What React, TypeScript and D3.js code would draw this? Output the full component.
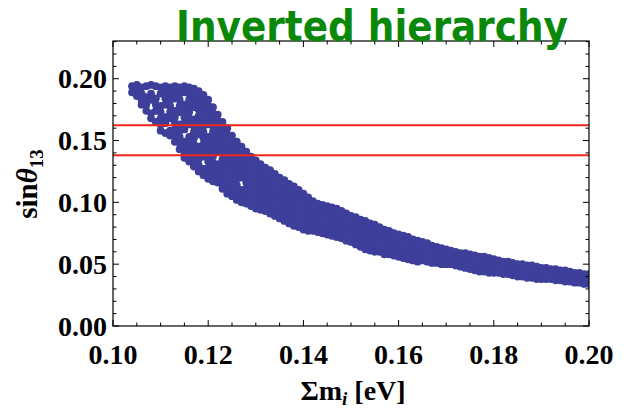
import React from "react";
import * as d3 from "d3";

// Σm_i [eV] of each sampled column of points
const sumMi = [
  0.104, 0.105, 0.106, 0.107, 0.108, 0.109, 0.110, 0.111, 0.112, 0.113, 0.114, 0.115, 0.116, 0.117, 0.118, 0.119,
  0.120, 0.121, 0.122, 0.123, 0.124, 0.125, 0.126, 0.127, 0.128, 0.129, 0.130, 0.131, 0.132, 0.133, 0.134, 0.135,
  0.136, 0.137, 0.138, 0.139, 0.140, 0.141, 0.142, 0.143, 0.144, 0.145, 0.146, 0.147, 0.148, 0.149, 0.150, 0.151,
  0.152, 0.153, 0.154, 0.155, 0.156, 0.157, 0.158, 0.159, 0.160, 0.161, 0.162, 0.163, 0.164, 0.165, 0.166, 0.167,
  0.168, 0.169, 0.170, 0.171, 0.172, 0.173, 0.174, 0.175, 0.176, 0.177, 0.178, 0.179, 0.180, 0.181, 0.182, 0.183,
  0.184, 0.185, 0.186, 0.187, 0.188, 0.189, 0.190, 0.191, 0.192, 0.193, 0.194, 0.195, 0.196, 0.197, 0.198, 0.199, 0.200,
];

// sin θ13 values of the points in each column
const sinTheta13 = [
  [0.194, 0.189],
  [0.195, 0.190, 0.186],
  [0.193, 0.188, 0.183, 0.179],
  [0.194, 0.185, 0.179, 0.174],
  [0.195, 0.188, 0.183, 0.172, 0.168],
  [0.194, 0.184, 0.179, 0.174, 0.165],
  [0.193, 0.188, 0.178, 0.173, 0.168, 0.163, 0.158],
  [0.194, 0.189, 0.184, 0.179, 0.169, 0.164, 0.156],
  [0.193, 0.188, 0.183, 0.178, 0.173, 0.168, 0.158, 0.154],
  [0.194, 0.189, 0.184, 0.174, 0.169, 0.164, 0.159, 0.154, 0.149],
  [0.193, 0.188, 0.183, 0.178, 0.173, 0.163, 0.158, 0.153, 0.148, 0.143],
  [0.194, 0.189, 0.179, 0.174, 0.169, 0.164, 0.159, 0.149, 0.144, 0.139, 0.136],
  [0.193, 0.188, 0.183, 0.178, 0.173, 0.168, 0.163, 0.153, 0.148, 0.143, 0.138, 0.133],
  [0.192, 0.187, 0.182, 0.177, 0.167, 0.162, 0.157, 0.152, 0.147, 0.142, 0.137, 0.132, 0.129],
  [0.190, 0.185, 0.180, 0.175, 0.170, 0.165, 0.160, 0.155, 0.145, 0.140, 0.135, 0.130, 0.125],
  [0.187, 0.182, 0.177, 0.172, 0.167, 0.162, 0.157, 0.152, 0.147, 0.142, 0.137, 0.127, 0.122],
  [0.183, 0.178, 0.173, 0.168, 0.163, 0.153, 0.148, 0.143, 0.138, 0.133, 0.128, 0.123, 0.119],
  [0.177, 0.172, 0.167, 0.162, 0.157, 0.152, 0.147, 0.142, 0.137, 0.132, 0.127, 0.122, 0.117],
  [0.171, 0.166, 0.161, 0.156, 0.151, 0.146, 0.141, 0.131, 0.126, 0.121, 0.116],
  [0.165, 0.160, 0.155, 0.150, 0.145, 0.140, 0.135, 0.130, 0.125, 0.120, 0.115, 0.111],
  [0.160, 0.155, 0.150, 0.145, 0.140, 0.135, 0.130, 0.125, 0.120, 0.115, 0.110, 0.107],
  [0.154, 0.149, 0.144, 0.139, 0.134, 0.129, 0.124, 0.119, 0.114, 0.109, 0.105],
  [0.149, 0.144, 0.139, 0.134, 0.129, 0.124, 0.119, 0.114, 0.109, 0.104, 0.102],
  [0.145, 0.140, 0.135, 0.130, 0.125, 0.120, 0.110, 0.105, 0.100],
  [0.141, 0.136, 0.131, 0.126, 0.121, 0.116, 0.111, 0.106, 0.101, 0.099],
  [0.137, 0.132, 0.127, 0.122, 0.117, 0.112, 0.107, 0.102, 0.097],
  [0.134, 0.129, 0.124, 0.119, 0.114, 0.109, 0.104, 0.099, 0.095],
  [0.131, 0.126, 0.121, 0.116, 0.111, 0.106, 0.101, 0.096, 0.094],
  [0.128, 0.123, 0.118, 0.113, 0.108, 0.103, 0.098, 0.093],
  [0.126, 0.121, 0.116, 0.111, 0.106, 0.101, 0.096, 0.091],
  [0.123, 0.118, 0.113, 0.108, 0.103, 0.098, 0.093, 0.089],
  [0.120, 0.115, 0.110, 0.105, 0.100, 0.095, 0.090, 0.087],
  [0.118, 0.113, 0.108, 0.103, 0.098, 0.093, 0.088, 0.085],
  [0.115, 0.110, 0.105, 0.100, 0.095, 0.090, 0.085, 0.083],
  [0.113, 0.108, 0.103, 0.098, 0.093, 0.088, 0.083, 0.081],
  [0.110, 0.105, 0.100, 0.095, 0.090, 0.085, 0.080],
  [0.107, 0.102, 0.097, 0.092, 0.087, 0.082, 0.078],
  [0.104, 0.099, 0.094, 0.089, 0.084, 0.079, 0.077],
  [0.101, 0.096, 0.091, 0.086, 0.081, 0.077],
  [0.099, 0.094, 0.089, 0.084, 0.079, 0.076],
  [0.098, 0.093, 0.088, 0.083, 0.078, 0.075],
  [0.097, 0.092, 0.087, 0.082, 0.077, 0.074],
  [0.096, 0.091, 0.086, 0.081, 0.076, 0.073],
  [0.095, 0.090, 0.085, 0.080, 0.075, 0.072],
  [0.093, 0.088, 0.083, 0.078, 0.073, 0.071],
  [0.091, 0.086, 0.081, 0.076, 0.071, 0.069],
  [0.089, 0.084, 0.079, 0.074, 0.069, 0.068],
  [0.088, 0.083, 0.078, 0.073, 0.068, 0.066],
  [0.086, 0.081, 0.076, 0.071, 0.066, 0.064],
  [0.085, 0.080, 0.075, 0.070, 0.065, 0.062],
  [0.083, 0.078, 0.073, 0.068, 0.063, 0.061],
  [0.082, 0.077, 0.072, 0.067, 0.062, 0.060],
  [0.080, 0.075, 0.070, 0.065, 0.060],
  [0.078, 0.073, 0.068, 0.063, 0.058],
  [0.077, 0.072, 0.067, 0.062, 0.058],
  [0.075, 0.070, 0.065, 0.060, 0.057],
  [0.074, 0.069, 0.064, 0.059, 0.056],
  [0.073, 0.068, 0.063, 0.058, 0.055],
  [0.072, 0.067, 0.062, 0.057, 0.054],
  [0.070, 0.065, 0.060, 0.055, 0.053],
  [0.069, 0.064, 0.059, 0.054, 0.052],
  [0.068, 0.063, 0.058, 0.053],
  [0.067, 0.062, 0.057, 0.052],
  [0.065, 0.060, 0.055, 0.051],
  [0.064, 0.059, 0.054, 0.051],
  [0.063, 0.058, 0.053, 0.050],
  [0.062, 0.057, 0.052, 0.050],
  [0.061, 0.056, 0.051, 0.050],
  [0.060, 0.055, 0.050, 0.049],
  [0.059, 0.054, 0.049, 0.048],
  [0.059, 0.054, 0.049, 0.047],
  [0.058, 0.053, 0.048, 0.046],
  [0.057, 0.052, 0.047, 0.045],
  [0.056, 0.051, 0.046, 0.044],
  [0.056, 0.051, 0.046, 0.044],
  [0.055, 0.050, 0.045, 0.043],
  [0.054, 0.049, 0.044, 0.043],
  [0.053, 0.048, 0.043],
  [0.052, 0.047, 0.042],
  [0.052, 0.047, 0.042],
  [0.051, 0.046, 0.041],
  [0.050, 0.045, 0.040],
  [0.050, 0.045, 0.040],
  [0.049, 0.044, 0.039],
  [0.049, 0.044, 0.039],
  [0.048, 0.043, 0.038],
  [0.047, 0.042, 0.038],
  [0.047, 0.042, 0.038],
  [0.046, 0.041, 0.038],
  [0.046, 0.041, 0.037],
  [0.045, 0.040, 0.037],
  [0.045, 0.040, 0.036],
  [0.044, 0.039, 0.036],
  [0.043, 0.038, 0.035],
  [0.043, 0.038, 0.035],
  [0.042, 0.037, 0.034],
  [0.042, 0.037, 0.034],
];

// horizontal reference lines (experimental band)
const bandLines = [0.1624, 0.138];

const xTickLabels = [0.10, 0.12, 0.14, 0.16, 0.18, 0.20];
const yTickLabels = [0.00, 0.05, 0.10, 0.15, 0.20];

const W = 623;
const H = 411;
const M = { left: 113, right: 589, top: 41, bottom: 326 };

export default function App() {
  const x = d3.scaleLinear().domain([0.1, 0.2]).range([M.left, M.right]);
  const y = d3.scaleLinear().domain([0, 0.2305]).range([M.bottom, M.top]);

  const xMinor = d3.range(0, 21).map((i) => 0.1 + i * 0.005);
  const yMinor = d3.range(0, 24).map((i) => i * 0.01);
  const isXMajor = (v: number) => Math.abs(v * 50 - Math.round(v * 50)) < 1e-6;
  const isYMajor = (v: number) => Math.abs(v * 20 - Math.round(v * 20)) < 1e-6;

  const points: { cx: number; cy: number }[] = [];
  sumMi.forEach((m, i) => {
    (sinTheta13[i] || []).forEach((s) => points.push({ cx: x(m), cy: y(s) }));
  });

  const serif = "'Liberation Serif', 'Times New Roman', serif";
  const pointColor = "#3e3e9b";

  return (
    <svg width={W} height={H} style={{ position: "absolute", left: 0, top: 0, background: "#fff" }}>
      <defs>
        <clipPath id="plotClip">
          <rect x={M.left} y={M.top} width={M.right - M.left} height={M.bottom - M.top} />
        </clipPath>
      </defs>
      <rect x={0} y={0} width={W} height={H} fill="#fff" />

      <g clipPath="url(#plotClip)">
        {points.map((p, i) => (
          <circle key={i} cx={p.cx} cy={p.cy} r={3.9} fill={pointColor} />
        ))}
        {bandLines.map((v, i) => (
          <line key={i} x1={M.left} x2={M.right} y1={y(v)} y2={y(v)} stroke="#f2261a" strokeWidth={2} />
        ))}
      </g>

      {/* frame */}
      <rect x={M.left} y={M.top} width={M.right - M.left} height={M.bottom - M.top} fill="none" stroke="#000" strokeWidth={1.2} />

      {/* x ticks bottom & top */}
      {xMinor.map((v, i) => {
        const len = isXMajor(v) ? 6 : 3.5;
        const px = x(v);
        return (
          <g key={"xt" + i}>
            <line x1={px} x2={px} y1={M.bottom} y2={M.bottom - len} stroke="#000" strokeWidth={1} />
            <line x1={px} x2={px} y1={M.top} y2={M.top + len} stroke="#000" strokeWidth={1} />
          </g>
        );
      })}
      {yMinor.map((v, i) => {
        const len = isYMajor(v) ? 6 : 3.5;
        const py = y(v);
        return (
          <g key={"yt" + i}>
            <line x1={M.left} x2={M.left + len} y1={py} y2={py} stroke="#000" strokeWidth={1} />
            <line x1={M.right} x2={M.right - len} y1={py} y2={py} stroke="#000" strokeWidth={1} />
          </g>
        );
      })}

      {/* tick labels */}
      {xTickLabels.map((v, i) => (
        <text key={"xl" + i} x={x(v)} y={364} textAnchor="middle" fontFamily={serif} fontWeight="bold" fontSize={28}>
          {v.toFixed(2)}
        </text>
      ))}
      {yTickLabels.map((v, i) => (
        <text key={"yl" + i} x={107} y={y(v) + 9.5} textAnchor="end" fontFamily={serif} fontWeight="bold" fontSize={28}>
          {v.toFixed(2)}
        </text>
      ))}

      {/* axis labels */}
      <text x={353} y={400} textAnchor="middle" fontFamily={serif} fontWeight="bold" fontSize={28}>
        Σm<tspan fontStyle="italic" fontSize={19} dy={5}>i</tspan>
        <tspan dy={-5}> [eV]</tspan>
      </text>
      <text transform="translate(37,184) rotate(-90)" textAnchor="middle" fontFamily={serif} fontWeight="bold" fontSize={29}>
        sin<tspan fontStyle="italic">θ</tspan>
        <tspan fontSize={19} dy={6}>13</tspan>
      </text>

      {/* title */}
      <text x={176} y={41} fontFamily="'DejaVu Sans', sans-serif" fontWeight="bold" fontSize={42} fill="#0a880a" textLength={392} lengthAdjust="spacingAndGlyphs">
        Inverted hierarchy
      </text>
    </svg>
  );
}
